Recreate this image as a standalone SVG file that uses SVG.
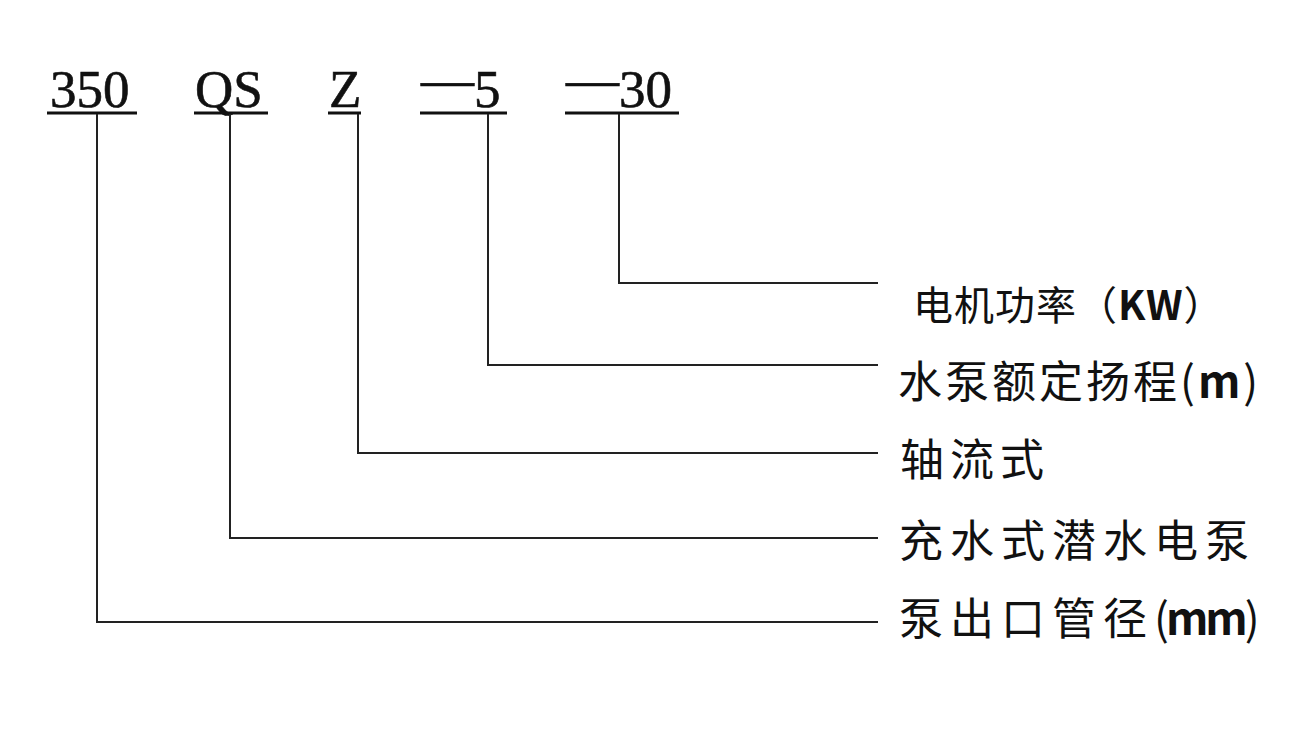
<svg xmlns="http://www.w3.org/2000/svg" width="1311" height="756" viewBox="0 0 1311 756">
<style>
.code{font-family:"Liberation Serif","Times New Roman",serif;font-size:53px;fill:#111;stroke:#111;stroke-width:0.6}
.lab{font-family:"Noto Sans CJK SC","Noto Sans",sans-serif;font-size:44px;fill:#111}
.ul{stroke:#111;stroke-width:3;fill:none}
.conn{stroke:#222;stroke-width:2;fill:none}
</style>
<rect width="1311" height="756" fill="#fff"/>
<g id="code-350"><text class="code" x="50" y="107">350</text><line class="ul" x1="47" y1="113" x2="137" y2="113"/></g>
<g id="code-QS"><text class="code" x="195" y="107">QS</text><line class="ul" x1="194" y1="113" x2="268" y2="113"/></g>
<g id="code-Z"><text class="code" x="329" y="107">Z</text><line class="ul" x1="328" y1="113" x2="361" y2="113"/></g>
<g id="code-5"><text class="code" x="421" y="107"><tspan dy="-10">—</tspan><tspan dy="10">5</tspan></text><line class="ul" x1="420" y1="113" x2="507" y2="113"/></g>
<g id="code-30"><text class="code" x="566" y="107"><tspan dy="-10">—</tspan><tspan dy="10">30</tspan></text><line class="ul" x1="565" y1="113" x2="679" y2="113"/></g>
<g id="connectors">
<polyline class="conn" points="619,114 619,283 878,283"/>
<polyline class="conn" points="488,114 488,365 878,365"/>
<polyline class="conn" points="358,114 358,453 878,453"/>
<polyline class="conn" points="230,114 230,538 878,538"/>
<polyline class="conn" points="97,114 97,622 878,622"/>
</g>
<g id="label-power"><text class="lab" x="913" y="320" style="font-size:40px;letter-spacing:1px">电机功率（<tspan font-weight="700">KW</tspan>）</text></g>
<g id="label-head"><text class="lab" x="898" y="398" style="letter-spacing:3px">水泵额定扬程(<tspan font-weight="700">m</tspan>)</text></g>
<g id="label-axial"><text class="lab" x="900" y="476" style="letter-spacing:6px">轴流式</text></g>
<g id="label-pump"><text class="lab" x="899" y="557" style="letter-spacing:7px">充水式潜水电泵</text></g>
<g id="label-dia"><text class="lab" x="899" y="635"><tspan style="letter-spacing:7px">泵出口管径</tspan><tspan style="letter-spacing:-3px">(<tspan font-weight="700">mm</tspan>)</tspan></text></g>
</svg>
